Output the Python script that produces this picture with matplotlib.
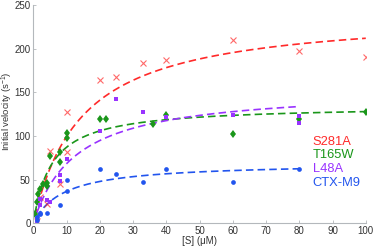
import matplotlib
matplotlib.use("Agg")
import matplotlib.pyplot as plt
import numpy as np

plt.rcParams['font.family'] = ['Liberation Sans', 'DejaVu Sans']
plt.rcParams['mathtext.fontset'] = 'custom'
plt.rcParams['mathtext.rm'] = 'Liberation Sans'
plt.rcParams['mathtext.it'] = 'Liberation Sans'

## data
s281a_x = [1, 2, 4, 5, 8, 10, 10, 20, 25, 33, 40, 60, 80, 100]
s281a_y = [3, 30, 22, 83, 45, 127, 82, 164, 168, 184, 187, 210, 197, 191]

t165w_x = [0.5, 1, 1.5, 2, 3, 4, 4, 5, 8, 8, 10, 10, 20, 22, 36, 40, 60, 80, 100]
t165w_y = [11, 24, 33, 39, 45, 46, 43, 77, 82, 70, 104, 98, 120, 120, 114, 124, 102, 119, 127]

l48a_x = [1, 1, 2, 2, 4, 5, 8, 8, 10, 20, 25, 33, 40, 60, 80, 80]
l48a_y = [3, 6, 28, 21, 27, 24, 55, 48, 74, 106, 142, 128, 122, 124, 123, 115]

ctx_x = [1, 1, 2, 2, 4, 8, 10, 10, 20, 25, 33, 40, 60, 80]
ctx_y = [4, 7, 11, 12, 11.5, 21, 50, 37.5, 62, 56, 47, 62, 47, 62]

# Michaelis-Menten fit parameters (Vmax, Km, x range)
fits = {
    'S281A': (242.5, 14.4, 0.5, 100),
    'T165W': (135.0, 5.5, 0.5, 100),
    'L48A': (155.0, 12.7, 1.0, 80),
    'CTX-M9': (69.5, 9.0, 1.0, 80),
}

colors = {'S281A': '#ff2a2a', 'T165W': '#1a961a', 'L48A': '#9933ff', 'CTX-M9': '#2255ee'}

fig = plt.figure(figsize=(3.74, 2.48), dpi=100)
ax = fig.add_axes([0.089, 0.0996, 0.889, 0.88])

# curves
for name, (vmax, km, x0, x1) in fits.items():
    xs = np.linspace(x0, x1, 300)
    ax.plot(xs, vmax * xs / (km + xs), color=colors[name], lw=1.2,
            dashes=(4.5, 2.5))

# points
ax.plot(s281a_x, s281a_y, 'x', color=colors['S281A'], ms=4, mew=0.8, alpha=0.7)
ax.plot(t165w_x, t165w_y, 'd', color=colors['T165W'], ms=4.5, mew=0)
ax.plot(l48a_x, l48a_y, 's', color=colors['L48A'], ms=3.4, mew=0)
ax.plot(ctx_x, ctx_y, 'o', color=colors['CTX-M9'], ms=3.4, mew=0)

# coloured text legend
labels_y = [93, 78, 62, 46]
for (name, c), yy in zip(colors.items(), labels_y):
    ax.text(84.0, yy, name, color=c, fontsize=9.3, ha='left', va='center')

ax.set_xlim(0, 100)
ax.set_ylim(0, 250)
ax.set_xticks(np.arange(0, 101, 10))
ax.set_yticks(np.arange(0, 251, 50))
for sp in ['top', 'right']:
    ax.spines[sp].set_visible(False)
for sp in ['left', 'bottom']:
    ax.spines[sp].set_color('#b4b8bc')
    ax.spines[sp].set_linewidth(0.8)
ax.tick_params(direction='in', length=2, width=0.6, color='#b4b8bc',
               labelsize=7, labelcolor='#333333', pad=2)
ax.set_xlabel('[S] (μM)', fontsize=7, color='#333333', labelpad=0)
# y label placed in figure coords so it stays inside the picture
fig.text(7.5 / 374, 0.55, 'Initial velocity (s$^{-1}$)', fontsize=6.8, color='#333333',
         rotation=90, ha='center', va='center')

fig.savefig('out.png', dpi=100)
